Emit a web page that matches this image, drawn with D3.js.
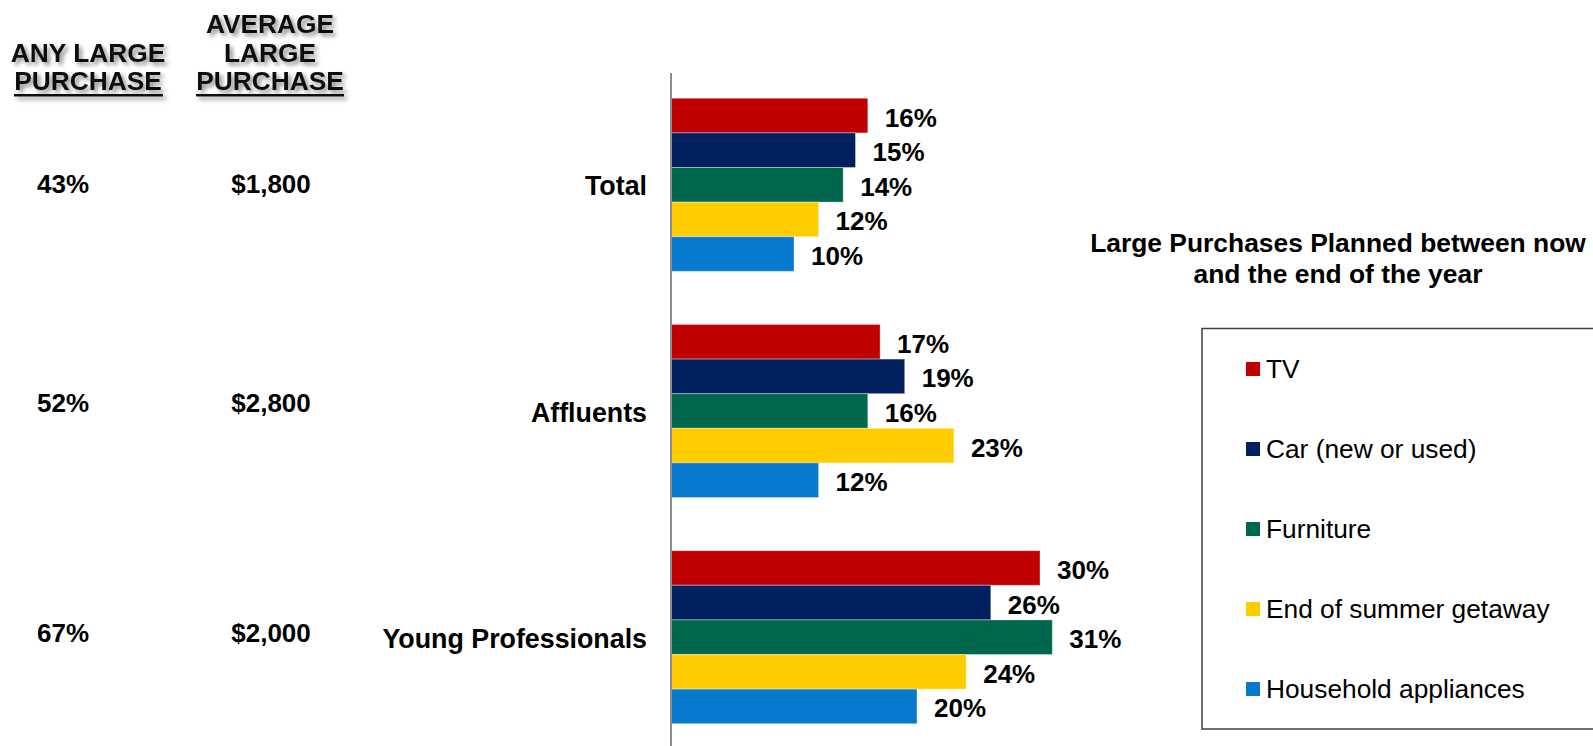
<!DOCTYPE html>
<html>
<head>
<meta charset="utf-8">
<script src="https://cdn.jsdelivr.net/npm/d3@7"></script>
<style>
  html, body { margin: 0; padding: 0; background: #ffffff; }
  svg { display: block; font-family: "Liberation Sans", Arial, sans-serif; }
</style>
</head>
<body>
<svg id="chart" width="1593" height="746"></svg>
<script>
// Segments and purchase categories
const segments = ["Total", "Affluents", "Young Professionals"];
const series = ["TV", "Car (new or used)", "Furniture", "End of summer getaway", "Household appliances"];
const seriesColors = ["#C00000", "#002060", "#00674F", "#FFCC00", "#0779CF"];

// Share planning each purchase (%), one array per segment
const totalValues = [16, 15, 14, 12, 10];
const affluentValues = [17, 19, 16, 23, 12];
const youngProValues = [30, 26, 31, 24, 20];
const segmentValues = [totalValues, affluentValues, youngProValues];

// Side table columns
const anyLargePurchase = ["43%", "52%", "67%"];
const averageLargePurchase = ["$1,800", "$2,800", "$2,000"];

const titleLines = ["Large Purchases Planned between now", "and the end of the year"];

const svg = d3.select("#chart");
const W = 1593, H = 746;
const axisX = 671;

// Drop shadow for the side table headings
const defs = svg.append("defs");
const f = defs.append("filter").attr("id", "hdrShadow")
  .attr("x", "-10%").attr("y", "-30%").attr("width", "130%").attr("height", "180%");
f.append("feDropShadow").attr("dx", 3).attr("dy", 3).attr("stdDeviation", 2)
  .attr("flood-color", "#000").attr("flood-opacity", 0.45);

// Scales
const y0 = d3.scaleBand().domain(segments).range([71.7, 750.3])
  .paddingInner(0.235).paddingOuter(0.1175);
const y1 = d3.scaleBand().domain(series).range([0, y0.bandwidth()]);
const x = d3.scaleLinear().domain([0, 35]).range([axisX, axisX + 35 * 12.3]);
const color = d3.scaleOrdinal().domain(series).range(seriesColors);

// Bars
const groups = svg.append("g").selectAll("g.seg")
  .data(segments.map((s, i) => ({ seg: s, vals: segmentValues[i] })))
  .join("g").attr("class", "seg")
  .attr("transform", d => `translate(0,${y0(d.seg)})`);

const cells = groups.selectAll("g.bar")
  .data(d => series.map((s, j) => ({ s, v: d.vals[j] })))
  .join("g").attr("class", "bar");

cells.append("rect")
  .attr("x", x(0))
  .attr("y", d => y1(d.s))
  .attr("width", d => x(d.v) - x(0))
  .attr("height", y1.bandwidth())
  .attr("fill", d => color(d.s))
  .attr("stroke", "rgba(255,255,255,0.35)")
  .attr("stroke-width", 1);

cells.append("text")
  .attr("x", d => x(d.v) + 17)
  .attr("y", d => y1(d.s) + y1.bandwidth() / 2 + 11)
  .attr("font-size", 26).attr("font-weight", "bold").attr("fill", "#000")
  .text(d => d.v + "%");

// Vertical category axis
svg.append("line")
  .attr("x1", axisX).attr("x2", axisX)
  .attr("y1", 73).attr("y2", H)
  .attr("stroke", "#8c8c8c").attr("stroke-width", 2);

// Segment labels
svg.append("g").selectAll("text")
  .data(segments).join("text")
  .attr("x", 647)
  .attr("y", d => y0(d) + y0.bandwidth() / 2 + 10.5)
  .attr("text-anchor", "end")
  .attr("font-size", 26.8).attr("font-weight", "bold").attr("fill", "#000")
  .text(d => d);

// Side table headings
const hdr = svg.append("g").attr("filter", "url(#hdrShadow)")
  .attr("font-size", 26.3).attr("font-weight", "bold").attr("fill", "#111")
  .attr("text-anchor", "middle");
const leftHdr = [["ANY LARGE", 61.5], ["PURCHASE", 90]];
const rightHdr = [["AVERAGE", 33], ["LARGE", 61.5], ["PURCHASE", 90]];
leftHdr.forEach(([t, yy]) => hdr.append("text").attr("x", 88).attr("y", yy).text(t));
rightHdr.forEach(([t, yy]) => hdr.append("text").attr("x", 270).attr("y", yy).text(t));
hdr.append("rect").attr("x", 14).attr("y", 94).attr("width", 149).attr("height", 2.5).attr("fill", "#111");
hdr.append("rect").attr("x", 196).attr("y", 94).attr("width", 148).attr("height", 2.5).attr("fill", "#111");

// Side table values
const sideBaselines = [193.3, 411.7, 642.3];
const side = svg.append("g").attr("font-size", 26).attr("font-weight", "bold")
  .attr("fill", "#000").attr("text-anchor", "middle");
side.selectAll("text.any").data(anyLargePurchase).join("text").attr("class", "any")
  .attr("x", 63).attr("y", (d, i) => sideBaselines[i]).text(d => d);
side.selectAll("text.avg").data(averageLargePurchase).join("text").attr("class", "avg")
  .attr("x", 271).attr("y", (d, i) => sideBaselines[i]).text(d => d);

// Title
svg.append("g").selectAll("text").data(titleLines).join("text")
  .attr("x", 1338).attr("y", (d, i) => 252.3 + i * 31)
  .attr("text-anchor", "middle")
  .attr("font-size", 26.4).attr("font-weight", "bold").attr("fill", "#000")
  .text(d => d);

// Legend
const lg = svg.append("g");
lg.append("rect").attr("x", 1202).attr("y", 328.5).attr("width", 420).attr("height", 400.5)
  .attr("fill", "none").attr("stroke", "#404040").attr("stroke-width", 1.5);
const items = lg.selectAll("g.item").data(series).join("g").attr("class", "item")
  .attr("transform", (d, i) => `translate(1246,${362 + i * 80})`);
items.append("rect").attr("width", 14).attr("height", 14).attr("fill", d => color(d));
items.append("text").attr("x", 20).attr("y", 15.7)
  .attr("font-size", 26.3).attr("fill", "#000").text(d => d);
</script>
</body>
</html>
